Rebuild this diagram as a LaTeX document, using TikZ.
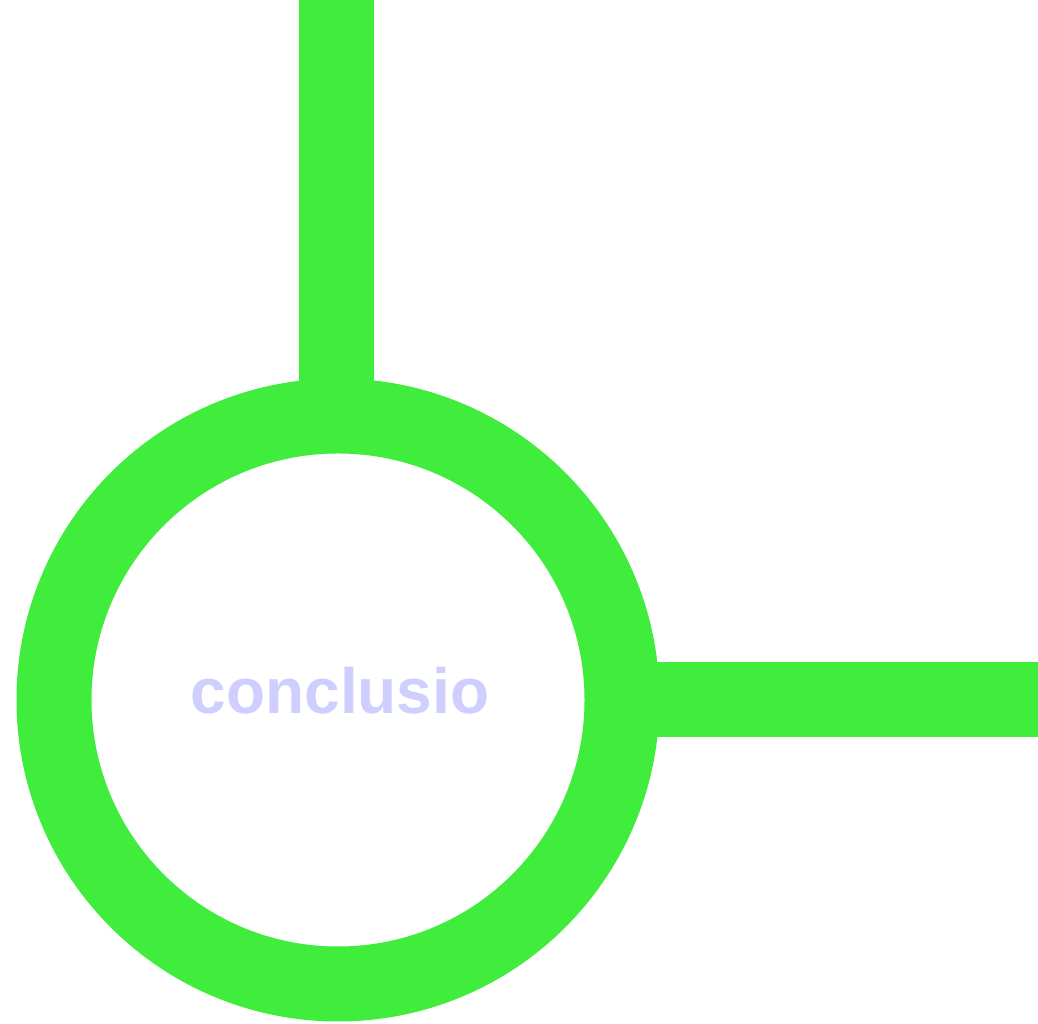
\documentclass[tikz,border=0pt]{standalone}
\usepackage{fontspec}
\setmainfont{Liberation Sans}
\usetikzlibrary{positioning}

\definecolor{ringgreen}{RGB}{64,236,60}
\definecolor{lblblue}{RGB}{206,206,255}

\begin{document}
\begin{tikzpicture}[
  x=1pt, y=1pt,
  ring/.style={circle, draw=ringgreen, line width=75pt, fill=white,
    minimum size=568pt, inner sep=0pt},
  bar/.style={draw=ringgreen, line width=75pt},
  lbl/.style={font=\fontsize{64}{64}\selectfont\bfseries, text=lblblue,
    inner sep=0pt}
]
  \useasboundingbox (0,0) rectangle (1038,1024);

  % ring with its label
  \node[ring] (concl) at (338,324) {};
  \node[lbl] (label) at ([xshift=2pt,yshift=9pt]concl.center) {conclusio};

  % free ends of the two bars
  \coordinate (topend) at (336.5,1030);
  \coordinate (rightend) at (1044,324);

  % bars into the ring
  \draw[bar] (topend) -- ([yshift=-6pt]topend |- concl.north);
  \draw[bar] (rightend) -- ([xshift=-6pt]concl.east);
\end{tikzpicture}
\end{document}
